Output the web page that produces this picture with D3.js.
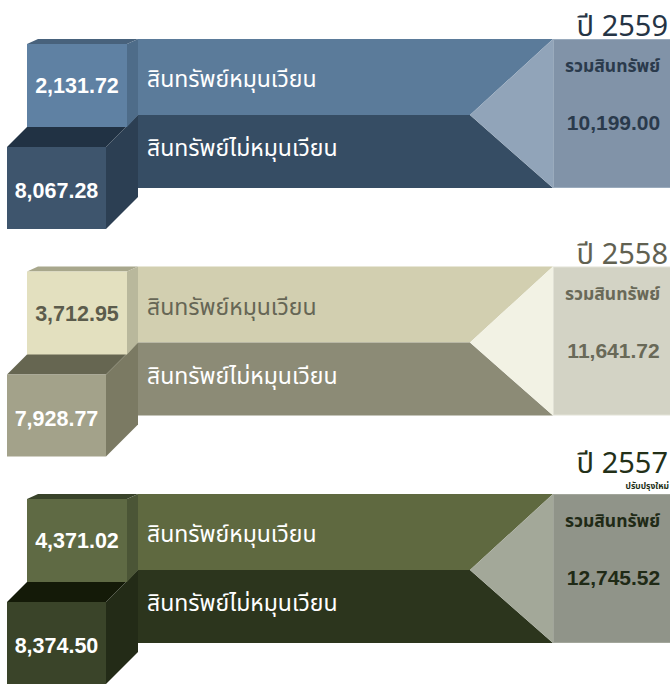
<!DOCTYPE html>
<html>
<head>
<meta charset="utf-8">
<script src="https://cdn.jsdelivr.net/npm/d3@7"></script>
<style>
  body { margin: 0; background: #fff; }
  svg { display: block; }
  text { font-family: "Noto Sans Thai", "Liberation Sans", "Noto Sans", sans-serif; }
</style>
</head>
<body>
<svg id="chart" width="670" height="686"></svg>
<script>
// values (ล้านบาท) per fiscal year
const years = ["2559", "2558", "2557"];
const yearNotes = ["", "", "ปรับปรุงใหม่"];
const currentAssets = [2131.72, 3712.95, 4371.02];
const nonCurrentAssets = [8067.28, 7928.77, 8374.50];
const totalAssets = [10199.00, 11641.72, 12745.52];
const labelCurrent = "สินทรัพย์หมุนเวียน";
const labelNonCurrent = "สินทรัพย์ไม่หมุนเวียน";
const labelTotal = "รวมสินทรัพย์";

// colour themes, one per panel
const themes = [
  { top: "#5b7b9a", bottom: "#364d64", tri: "#91a4b9", box: "#8193a8", boxEdge: "#9aabbd",
    sFront: "#5f81a3", sTop: "#48627c", sSide: "#4e6c89",
    bFront: "#3e556d", bTop: "#213244", bSide: "#2c3f53",
    yearText: "#253445", totalText: "#2a3a4c", topText: "#ffffff", sText: "#ffffff", bText: "#ffffff" },
  { top: "#d2cfb0", bottom: "#8c8b76", tri: "#f2f2e4", box: "#d3d3c5", boxEdge: "#e2e2d6",
    sFront: "#e3e0bf", sTop: "#a8a78c", sSide: "#b9b89c",
    bFront: "#a3a28a", bTop: "#666651", bSide: "#7b7a63",
    yearText: "#616151", totalText: "#696958", topText: "#666655", sText: "#5c5c4c", bText: "#ffffff" },
  { top: "#5f6940", bottom: "#2c351d", tri: "#a3a899", box: "#909489", boxEdge: "#a2a69b",
    sFront: "#5f6a44", sTop: "#39432a", sSide: "#4b5536",
    bFront: "#3a4429", bTop: "#141a08", bSide: "#232b17",
    yearText: "#233018", totalText: "#1f2a16", topText: "#ffffff", sText: "#ffffff", bText: "#ffffff" }
];

const svg = d3.select("#chart");
const fmt = d3.format(",.2f");

// vertical placement of the three panels
const y = d3.scaleBand().domain(years).range([39, 39 + 3 * 227.5]).paddingInner(0);

// horizontal layout
const x = d3.scaleLinear().domain([0, 670]).range([0, 670]);
const bandX0 = x(138), tipX = x(470), boxX = x(553), boxX1 = x(670);
const topH = 76, totalH = 149;

const rows = years.map((yr, i) => ({
  year: yr, note: yearNotes[i], cur: currentAssets[i], non: nonCurrentAssets[i],
  total: totalAssets[i], t: themes[i]
}));

const poly = pts => "M" + pts.map(p => p.join(",")).join("L") + "Z";

const panel = svg.selectAll("g.panel")
  .data(rows)
  .enter()
  .append("g")
  .attr("class", "panel")
  .attr("transform", d => `translate(0,${y(d.year)})`);

panel.each(function(d) {
  const g = d3.select(this);
  const t = d.t;

  // bands
  g.append("path").attr("fill", t.top)
    .attr("d", poly([[bandX0, 0], [boxX, 0], [tipX, topH], [bandX0, topH]]));
  g.append("path").attr("fill", t.bottom)
    .attr("d", poly([[bandX0, topH], [tipX, topH], [boxX, totalH], [bandX0, totalH]]));
  g.append("path").attr("fill", t.tri)
    .attr("d", poly([[boxX, 0], [tipX, topH], [boxX, totalH]]));

  // total box
  g.append("rect")
    .attr("x", boxX + 0.5).attr("y", 0.5)
    .attr("width", boxX1 - boxX).attr("height", totalH - 1)
    .attr("fill", t.box).attr("stroke", t.boxEdge).attr("stroke-width", 1);

  // big cube (non-current)
  const bx0 = 7, bx1 = 106, by0 = 108, by1 = 190, dx = 32, dy = 32;
  g.append("path").attr("fill", t.bTop)
    .attr("d", poly([[bx0, by0], [bx0 + dx, by0 - dy], [bx1 + dx, by0 - dy], [bx1, by0]]));
  g.append("path").attr("fill", t.bSide)
    .attr("d", poly([[bx1, by0], [bx1 + dx, by0 - dy], [bx1 + dx, by1 - dy], [bx1, by1]]));
  g.append("rect").attr("fill", t.bFront)
    .attr("x", bx0).attr("y", by0).attr("width", bx1 - bx0).attr("height", by1 - by0);

  // small cube (current)
  const sx0 = 27, sx1 = 127, sy0 = 5, sy1 = 88, sdx = 11, sdy = 5;
  g.append("path").attr("fill", t.sTop)
    .attr("d", poly([[sx0, sy0], [sx0 + sdx, sy0 - sdy], [sx1 + sdx, sy0 - sdy], [sx1, sy0]]));
  g.append("path").attr("fill", t.sSide)
    .attr("d", poly([[sx1, sy0], [sx1 + sdx, sy0 - sdy], [sx1 + sdx, topH], [sx1, sy1]]));
  g.append("rect").attr("fill", t.sFront)
    .attr("x", sx0).attr("y", sy0).attr("width", sx1 - sx0).attr("height", sy1 - sy0);

  // values on cubes
  g.append("text")
    .attr("x", (sx0 + sx1) / 2).attr("y", 54)
    .attr("text-anchor", "middle")
    .style("font-family", "'Liberation Sans', Arial, sans-serif")
    .style("font-size", "21.5px").style("font-weight", "bold")
    .attr("fill", t.sText)
    .text(fmt(d.cur));
  g.append("text")
    .attr("x", (bx0 + bx1) / 2).attr("y", 159)
    .attr("text-anchor", "middle")
    .style("font-family", "'Liberation Sans', Arial, sans-serif")
    .style("font-size", "21.5px").style("font-weight", "bold")
    .attr("fill", t.bText)
    .text(fmt(d.non));

  // band labels
  g.append("text")
    .attr("x", 147).attr("y", 48)
    .style("font-size", "23px")
    .attr("fill", t.topText)
    .text(labelCurrent);
  g.append("text")
    .attr("x", 147).attr("y", 117)
    .style("font-size", "23px")
    .attr("fill", "#ffffff")
    .text(labelNonCurrent);

  // total box labels
  g.append("text")
    .attr("x", (boxX + boxX1) / 2 + 1).attr("y", 33)
    .attr("text-anchor", "middle")
    .style("font-size", "17.5px").style("font-weight", "bold")
    .attr("fill", t.totalText)
    .text(labelTotal);
  g.append("text")
    .attr("x", (boxX + boxX1) / 2 + 2).attr("y", 91)
    .attr("text-anchor", "middle")
    .style("font-family", "'Liberation Sans', Arial, sans-serif")
    .style("font-size", "21px").style("font-weight", "bold")
    .attr("fill", t.totalText)
    .text(fmt(d.total));

  // year heading (with optional note line beneath, in the same text block)
  const head = g.append("text")
    .attr("text-anchor", "end")
    .attr("fill", t.yearText);
  head.append("tspan")
    .attr("x", 668).attr("y", d.note ? -21 : -3)
    .style("font-size", "29px")
    .text("ปี " + d.year);
  if (d.note) {
    head.append("tspan")
      .attr("x", 669).attr("y", -5)
      .style("font-size", "8.5px").style("font-weight", "bold")
      .text(d.note);
  }
});
</script>
</body>
</html>
